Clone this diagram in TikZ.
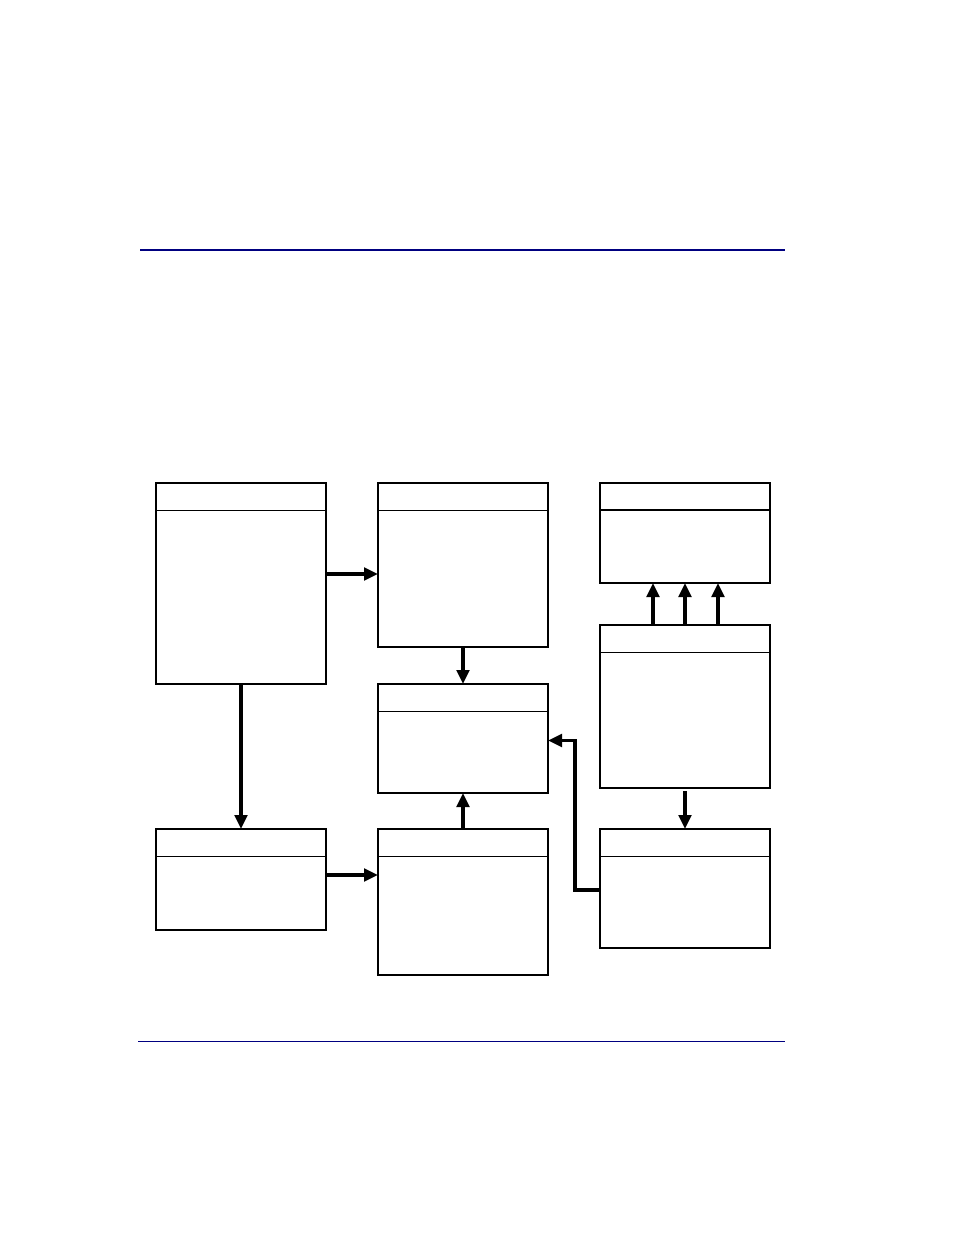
\documentclass[tikz,border=0pt]{standalone}
\usetikzlibrary{arrows.meta}
\definecolor{rulenavy}{RGB}{0,0,128}
\begin{document}
\begin{tikzpicture}[x=1pt,y=-1pt,
  box/.style={draw=black,line width=2pt,minimum width=170pt,inner sep=0pt,outer sep=0pt},
  header/.style={draw=black,line width=1pt},
  conn/.style={draw=black,line width=3.4pt,-{Triangle[length=14pt,width=12.5pt]}}]
\fill[white] (0,0) rectangle (954,1235);
\useasboundingbox (0,0) rectangle (954,1235);
% rules
\coordinate (tl) at (140,250);
\coordinate (tr) at (785,250);
\coordinate (bl) at (138,1041);
\coordinate (br) at (785,1041);
\draw[rulenavy,line width=2.2pt] (tl) -- (tr);
\draw[rulenavy,line width=0.9pt] (bl) -- (br);
% boxes
\node[box,minimum height=201pt] (A) at (241,583.5) {};
\node[box,minimum height=164pt] (B) at (463,565) {};
\node[box,minimum height=100pt] (C) at (685,533) {};
\node[box,minimum height=109pt] (D) at (463,738.5) {};
\node[box,minimum height=163pt] (E) at (685,706.5) {};
\node[box,minimum height=101pt] (F) at (241,879.5) {};
\node[box,minimum height=146pt] (G) at (463,902) {};
\node[box,minimum height=119pt] (H) at (685,888.5) {};
% header lines
\foreach \n in {A,B,D,E,F,G,H}{
  \draw[header] ([yshift=-27.5pt]\n.north west) -- ([yshift=-27.5pt]\n.north east);
}
\draw[header,line width=1.8pt] ([yshift=-27pt]C.north west) -- ([yshift=-27pt]C.north east);
% connectors
\draw[conn] ([yshift=9.5pt]A.east) -- ([yshift=-9pt]B.west);
\draw[conn] (B.south) -- (D.north);
\draw[conn] (A.south) -- (F.north);
\draw[conn] ([yshift=4.5pt]F.east) -- ([yshift=27pt]G.west);
\draw[conn] (G.north) -- (D.south);
\draw[conn] ([xshift=-32pt]E.north) -- ([xshift=-32pt]C.south);
\draw[conn] (E.north) -- (C.south);
\draw[conn] ([xshift=33pt]E.north) -- ([xshift=33pt]C.south);
\draw[conn] ([yshift=-3pt]E.south) -- (H.north);
\draw[conn] ([yshift=-1.5pt]H.west) -- ++(-25pt,0pt) |- ([yshift=-2pt]D.east);
\end{tikzpicture}
\end{document}
